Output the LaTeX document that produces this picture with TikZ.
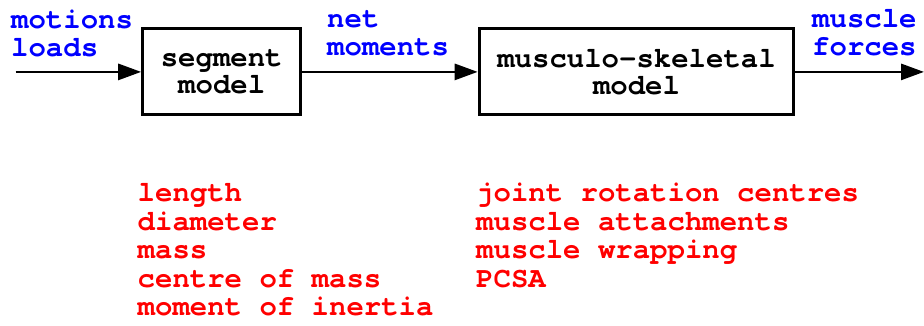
\documentclass[tikz,border=0pt]{standalone}
\usepackage{fontspec}
\setmonofont{TeX Gyre Cursor}
\usetikzlibrary{arrows.meta}

\begin{document}
\begin{tikzpicture}[x=1pt,y=-1pt,
  every node/.style={font=\ttfamily\bfseries\fontsize{29}{27}\selectfont, inner sep=0pt},
  blk/.style={draw, line width=3pt, align=center},
  flow/.style={line width=2.8pt, -{Triangle[length=23pt,width=16pt]}},
  signal/.style={text=blue, anchor=base west},
  param/.style={text=red, anchor=base west},
]
\useasboundingbox (0,0) rectangle (924,325);

% processing blocks
\node[blk, minimum width=158pt, minimum height=86pt] (seg) at (221.7,71.9) {segment\\model};
\node[blk, minimum width=314.6pt, minimum height=86pt] (msk) at (636.5,71.9) {musculo-skeletal\\model};

% signal flow
\coordinate (in) at (15.7,71.9);
\coordinate (out) at (924,71.9);
\draw[flow] (in) -- (seg.west);
\draw[flow] (seg.east) -- (msk.west);
\draw[flow] (msk.east) -- (out);

% signal labels
\node[signal] (l1a) at (11,28) {motions};
\node[signal] (l1b) at (11,56) {loads};
\node[signal] (l2a) at (327,27) {net};
\node[signal] (l2b) at (327,55) {moments};
\node[signal] (l3a) at (812,27) {muscle};
\node[signal] (l3b) at (812,55) {forces};

% model parameters
\foreach \t [count=\i] in {length, diameter, mass, centre of mass, moment of inertia}
  \node[param] (sp\i) at (137.5, 201.5+28.5*\i-28.5) {\t};
\foreach \t [count=\i] in {joint rotation centres, muscle attachments, muscle wrapping, PCSA}
  \node[param] (mp\i) at (476, 201.5+28.5*\i-28.5) {\t};
\end{tikzpicture}
\end{document}
